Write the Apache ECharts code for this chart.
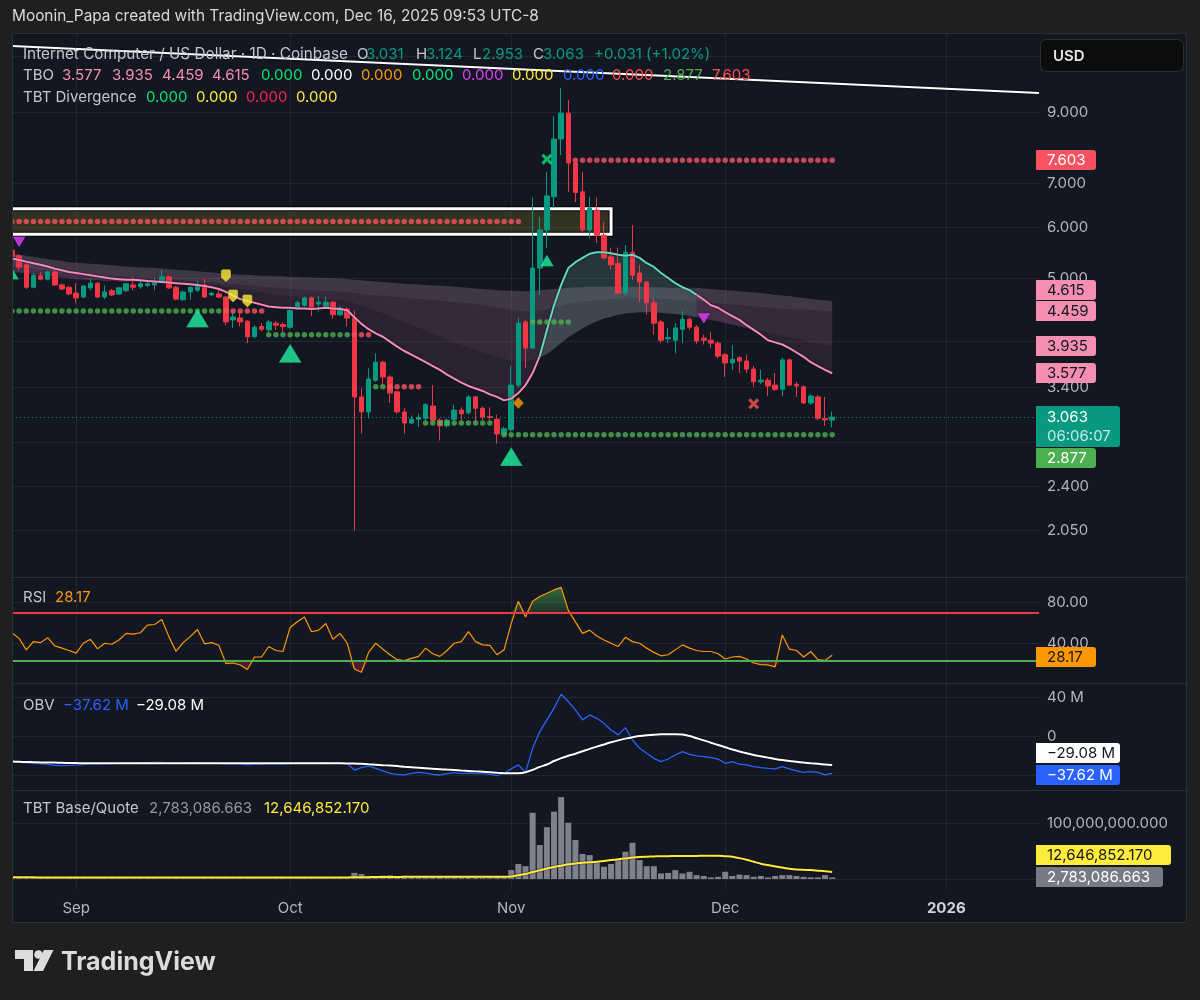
<!DOCTYPE html>
<html><head><meta charset="utf-8">
<script src="https://cdn.jsdelivr.net/npm/echarts@6/dist/echarts.min.js"></script>
<style>html,body{margin:0;padding:0;background:#1f1f1f;}#c{width:1200px;height:1000px;}</style>
</head><body><div id="c"></div>
<script>
// ---------------- DATA ----------------
const START_DATE = '2025-08-23';
const N_CATS = 145; // daily slots from START_DATE through mid-Jan 2026
const opens = [5.53,5.42,5.25,4.85,5.05,4.99,5.12,4.89,4.85,4.75,
 4.685,4.84,4.92,4.685,4.79,4.735,4.79,4.89,4.86,4.88,
 4.89,4.94,5.03,4.85,4.64,4.77,4.80,4.89,4.72,4.735,
 4.685,4.32,4.35,4.30,4.07,4.22,4.17,4.27,4.25,4.21,
 4.51,4.55,4.67,4.57,4.52,4.60,4.40,4.49,4.35,3.29,
 3.12,3.49,3.72,3.53,3.35,3.12,3.00,3.04,3.05,3.185,
 3.03,2.97,3.04,3.14,3.11,3.29,3.16,3.07,3.04,2.885,
 2.93,3.43,4.29,3.91,5.19,5.94,6.68,8.195,8.98,7.53,
 6.80,5.94,6.37,5.83,5.40,5.28,4.75,5.49,5.10,4.94,
 4.59,4.29,4.04,4.02,4.18,4.33,4.21,4.05,4.02,3.98,
 3.82,3.71,3.78,3.735,3.63,3.47,3.49,3.43,3.38,3.75,
 3.44,3.41,3.22,3.29,3.05,3.031];
const highs = [5.60,5.45,5.30,5.10,5.12,5.14,5.19,4.91,4.87,4.92,
 4.89,5.00,4.94,4.88,4.82,4.86,4.92,5.03,4.98,4.95,
 5.01,5.155,5.05,4.87,4.79,4.86,4.96,4.99,4.77,4.82,
 4.70,4.46,4.44,4.32,4.24,4.27,4.32,4.30,4.28,4.49,
 4.63,4.69,4.69,4.70,4.69,4.62,4.54,4.52,4.47,3.39,
 3.64,3.84,3.74,3.55,3.36,3.16,3.08,3.10,3.22,3.43,
 3.05,3.05,3.20,3.17,3.31,3.30,3.18,3.17,3.09,2.96,
 3.67,4.35,4.32,6.66,6.22,7.29,8.89,9.82,9.41,7.55,
 7.29,6.68,6.66,6.10,5.58,5.58,5.63,6.04,5.25,4.96,
 4.67,4.32,4.20,4.27,4.46,4.36,4.24,4.10,4.14,4.00,
 3.84,3.95,3.80,3.82,3.67,3.62,3.52,3.58,3.78,3.77,
 3.47,3.43,3.32,3.31,3.29,3.124];
const lows = [5.36,5.15,4.82,4.83,4.97,4.97,4.87,4.80,4.72,4.58,
 4.67,4.80,4.67,4.65,4.70,4.72,4.77,4.80,4.82,4.85,
 4.80,4.92,4.82,4.63,4.62,4.64,4.77,4.67,4.70,4.67,
 4.24,4.20,4.22,3.98,4.05,4.15,4.14,4.17,4.14,4.19,
 4.48,4.52,4.38,4.45,4.50,4.34,4.38,4.22,2.05,2.89,
 3.05,3.47,3.42,3.22,3.10,2.89,2.99,2.96,3.03,3.00,
 2.82,2.95,3.02,3.03,3.09,3.01,3.03,3.03,2.79,2.87,
 2.91,3.40,3.64,3.90,4.72,5.57,6.42,7.74,6.80,6.557,
 5.90,5.77,5.67,5.35,5.16,4.74,4.70,4.98,4.60,4.40,
 4.10,3.98,3.98,3.84,3.98,4.17,3.97,3.96,3.91,3.77,
 3.53,3.62,3.58,3.58,3.41,3.44,3.30,3.36,3.30,3.42,
 3.29,3.21,3.20,3.03,2.97,2.953];
const closes = [5.40,5.21,4.85,5.06,4.99,5.12,4.89,4.82,4.735,4.67,
 4.87,4.92,4.685,4.77,4.72,4.84,4.91,4.85,4.91,4.91,
 4.94,5.03,4.84,4.65,4.77,4.85,4.89,4.685,4.75,4.685,
 4.29,4.365,4.29,4.07,4.21,4.18,4.29,4.24,4.22,4.47,
 4.59,4.67,4.52,4.60,4.60,4.40,4.51,4.35,3.29,3.12,
 3.505,3.72,3.53,3.335,3.12,3.00,3.04,3.06,3.20,3.03,
 2.97,3.03,3.14,3.10,3.29,3.16,3.063,3.06,2.885,2.94,
 3.43,4.27,3.91,5.19,5.94,6.70,8.195,8.98,7.53,6.78,
 5.94,6.42,5.83,5.38,5.25,4.75,5.49,5.06,4.94,4.59,
 4.27,4.02,4.06,4.20,4.33,4.21,4.01,4.02,3.98,3.80,
 3.71,3.76,3.735,3.63,3.47,3.49,3.42,3.38,3.75,3.43,
 3.42,3.22,3.30,3.05,3.032,3.063];

// TBO lines: fast MA (drawn line) and three slower band lines
const tboFast = [5.37,5.34,5.31,5.28,5.25,5.22,5.18,5.15,5.12,5.10,
 5.08,5.06,5.04,5.02,5.00,4.99,4.98,4.98,4.97,4.96,
 4.95,4.94,4.93,4.92,4.91,4.90,4.89,4.87,4.85,4.82,
 4.77,4.71,4.65,4.62,4.59,4.56,4.53,4.52,4.51,4.51,
 4.50,4.50,4.49,4.50,4.51,4.50,4.49,4.47,4.36,4.26,
 4.18,4.12,4.07,4.00,3.93,3.87,3.82,3.77,3.72,3.67,
 3.62,3.56,3.51,3.46,3.42,3.39,3.36,3.32,3.29,3.25,
 3.27,3.335,3.43,3.58,3.80,4.17,4.55,4.89,5.19,5.30,
 5.38,5.46,5.49,5.49,5.47,5.44,5.42,5.44,5.38,5.28,
 5.21,5.10,5.01,4.92,4.85,4.80,4.72,4.64,4.55,4.51,
 4.44,4.38,4.32,4.24,4.17,4.10,4.02,3.99,3.96,3.91,
 3.85,3.79,3.72,3.67,3.62,3.577];
const tboBand1 = [5.12,5.11,5.10,5.08,5.06,5.05,5.03,5.02,5.00,4.99,
 4.98,4.97,4.97,4.96,4.96,4.95,4.95,4.95,4.94,4.94,
 4.94,4.93,4.93,4.92,4.92,4.91,4.91,4.90,4.89,4.88,
 4.86,4.84,4.82,4.80,4.78,4.76,4.74,4.72,4.71,4.70,
 4.69,4.68,4.67,4.66,4.65,4.64,4.63,4.62,4.58,4.54,
 4.50,4.46,4.42,4.38,4.33,4.29,4.24,4.20,4.16,4.11,
 4.07,4.03,3.99,3.95,3.92,3.88,3.85,3.82,3.79,3.76,
 3.74,3.73,3.73,3.75,3.78,3.83,3.90,3.98,4.06,4.13,
 4.19,4.25,4.30,4.34,4.37,4.40,4.42,4.43,4.44,4.44,
 4.44,4.43,4.42,4.41,4.40,4.38,4.36,4.34,4.32,4.30,
 4.27,4.25,4.22,4.20,4.17,4.15,4.12,4.10,4.08,4.06,
 4.04,4.02,3.99,3.97,3.95,3.935];
const tboBand2 = [5.22,5.21,5.20,5.18,5.16,5.14,5.12,5.10,5.09,5.08,
 5.07,5.06,5.05,5.04,5.03,5.03,5.02,5.02,5.01,5.01,
 5.00,5.00,4.99,4.98,4.97,4.96,4.95,4.94,4.93,4.92,
 4.91,4.90,4.89,4.88,4.87,4.86,4.85,4.84,4.83,4.82,
 4.81,4.80,4.79,4.79,4.78,4.78,4.77,4.76,4.75,4.73,
 4.72,4.71,4.70,4.69,4.68,4.67,4.66,4.65,4.64,4.63,
 4.62,4.61,4.60,4.59,4.58,4.57,4.55,4.53,4.51,4.49,
 4.47,4.46,4.45,4.45,4.46,4.48,4.51,4.54,4.57,4.59,
 4.61,4.62,4.63,4.64,4.65,4.65,4.66,4.66,4.66,4.66,
 4.66,4.65,4.65,4.64,4.63,4.62,4.61,4.60,4.59,4.58,
 4.57,4.56,4.55,4.54,4.53,4.52,4.51,4.50,4.49,4.49,
 4.48,4.48,4.47,4.47,4.46,4.459];
const tboBand3 = [5.46,5.44,5.42,5.40,5.38,5.36,5.34,5.32,5.30,5.29,
 5.28,5.27,5.26,5.25,5.24,5.23,5.22,5.21,5.20,5.20,
 5.19,5.18,5.17,5.16,5.15,5.14,5.13,5.12,5.11,5.10,
 5.09,5.08,5.07,5.07,5.06,5.05,5.05,5.04,5.04,5.03,
 5.03,5.02,5.02,5.01,5.01,5.00,5.00,4.99,4.98,4.97,
 4.96,4.95,4.94,4.93,4.92,4.91,4.90,4.90,4.89,4.88,
 4.88,4.87,4.86,4.85,4.84,4.83,4.82,4.81,4.80,4.79,
 4.79,4.78,4.78,4.79,4.80,4.81,4.82,4.83,4.84,4.85,
 4.85,4.86,4.86,4.86,4.86,4.86,4.86,4.86,4.86,4.85,
 4.85,4.85,4.84,4.84,4.84,4.84,4.84,4.83,4.82,4.81,
 4.80,4.79,4.78,4.77,4.76,4.75,4.74,4.72,4.71,4.70,
 4.68,4.67,4.65,4.64,4.63,4.615];
const tboBullRange = [74, 96]; // bars where the fast line is drawn teal

// TBO support / resistance dots: [fromBar, toBar, price]
const redLevelSegs = [[0,71,6.12],[79,115,7.603],[30,35,4.46],[48,50,4.10],[53,57,3.41]];
const greenLevelSegs = [[0,29,4.46],[36,47,4.10],[51,52,3.41],[58,67,3.00],[73,78,4.29],[69,115,2.877]];
const boxZone = [0, 84, 5.85, 6.40]; // fromBar, toBar, low, high
const trendLine = [[0, 11.39], [144, 9.64]]; // [bar, price]

// signal markers: [bar, price]
const sigUpBig = [[26,4.35],[39,3.84],[70,2.664]];
const sigUpSmall = [[0,5.09],[75,5.33]];
const sigDown = [[1,5.69],[97,4.34]];
const sigYellow = [[30,5.05],[31,4.70],[33,4.62]];
const sigDiamond = [[71,3.22]];
const sigXGreen = [[75,7.63]];
const sigXRed = [[104,3.21]];

const rsi = [50.3,44.8,33.5,41.6,40.6,45.5,37.4,35.2,32.9,30.3,
 40.0,43.9,34.5,40.0,39.0,43.2,49.7,49.0,50.3,57.7,
 58.4,63.2,46.5,32.0,40.6,46.5,53.5,39.4,40.6,38.0,
 20.0,20.6,18.7,14.2,26.5,26.5,36.8,32.9,31.9,55.5,
 61.0,65.8,51.3,52.9,59.4,43.9,49.7,40.0,14.8,11.6,
 31.0,40.0,34.2,28.7,23.9,22.9,25.2,27.1,35.2,29.7,
 27.1,32.9,40.0,41.6,51.3,41.6,38.4,38.0,28.7,33.5,
 59.4,81.3,65.8,81.3,85.8,89.0,92.3,94.8,72.3,61.0,
 49.7,52.9,47.1,43.2,40.0,36.8,45.8,41.6,40.0,35.2,
 31.0,27.7,28.7,33.5,38.4,35.2,32.9,31.9,31.9,29.7,
 24.5,26.5,27.1,24.5,20.6,19.0,18.7,16.8,48.1,34.2,
 32.9,26.5,31.9,23.9,23.2,28.17];
const RSI_UPPER = 70, RSI_LOWER = 23;

const obv = [-25.6,-25.9,-27.0,-27.5,-28.0,-28.5,-29.3,-29.7,-29.5,-29.0,
 -28.6,-28.0,-28.4,-28.0,-27.6,-27.4,-27.0,-27.2,-27.0,-26.8,
 -26.5,-26.3,-26.8,-27.6,-27.2,-26.9,-26.6,-27.2,-27.0,-27.3,
 -28.2,-27.9,-28.2,-28.8,-28.3,-28.4,-27.9,-28.2,-28.4,-27.6,
 -27.2,-26.8,-27.3,-27.0,-26.6,-27.2,-26.9,-27.4,-34.2,-31.8,
 -30.1,-32.5,-35.2,-37.6,-38.6,-39.3,-37.6,-36.6,-37.3,-38.6,
 -39.3,-37.9,-36.9,-37.9,-37.3,-37.9,-37.9,-38.6,-39.9,-37.5,
 -33.0,-29.0,-36.6,-12.0,5.2,17.2,29.2,43.5,36.0,27.5,
 17.2,22.3,18.8,13.7,6.9,1.8,9.3,-3.4,-11.9,-17.1,
 -22.2,-25.6,-22.9,-18.8,-15.4,-18.1,-19.8,-20.5,-21.5,-22.9,
 -27.3,-25.6,-28.3,-29.0,-30.7,-31.8,-32.5,-33.1,-30.7,-33.1,
 -35.2,-36.6,-35.9,-36.6,-39.3,-37.62];
const obvMa = [-25.6,-25.8,-26.0,-26.2,-26.4,-26.5,-26.6,-26.8,-27.0,-27.1,
 -27.2,-27.3,-27.3,-27.3,-27.3,-27.3,-27.3,-27.3,-27.3,-27.3,
 -27.3,-27.3,-27.3,-27.3,-27.3,-27.3,-27.3,-27.3,-27.3,-27.3,
 -27.3,-27.3,-27.3,-27.3,-27.3,-27.3,-27.3,-27.3,-27.3,-27.3,
 -27.3,-27.3,-27.3,-27.3,-27.3,-27.3,-27.3,-27.4,-27.6,-27.9,
 -28.3,-28.7,-29.2,-29.7,-30.2,-30.8,-31.3,-31.8,-32.3,-32.8,
 -33.3,-33.8,-34.2,-34.7,-35.1,-35.6,-36.0,-36.5,-37.0,-37.4,
 -37.6,-37.5,-36.5,-34.0,-31.0,-28.5,-25.0,-22.0,-19.5,-17.5,
 -15.0,-12.5,-10.2,-8.0,-5.8,-3.8,-2.0,-0.5,0.6,1.4,
 2.0,2.4,2.5,2.5,2.2,0.6,-1.6,-3.8,-6.2,-8.5,
 -10.8,-13.2,-15.2,-17.0,-18.8,-20.2,-21.5,-22.8,-24.0,-25.0,
 -25.8,-26.6,-27.3,-27.9,-28.5,-29.08];

// TBT Base/Quote volume (millions)
const vol = [3.2,3.0,3.5,2.8,2.5,2.6,3.0,2.7,3.1,2.9,
 2.6,2.4,3.0,2.5,2.3,2.6,2.8,2.5,2.4,2.7,
 3.4,3.1,2.8,3.3,2.7,2.5,2.6,2.9,2.4,2.8,
 4.0,3.2,3.0,3.6,2.8,2.6,2.9,2.7,2.5,3.5,
 3.0,2.8,2.9,2.6,2.7,3.1,2.6,3.0,11.0,9.0,
 5.5,4.5,6.5,7.0,4.5,6.0,5.0,3.5,4.0,4.5,
 4.0,3.0,3.5,3.2,4.0,3.4,3.0,2.8,4.2,3.0,
 16,27,23,119,61,93,121,147,101,70,
 45,43,31,22,27,34,49,65,34,23,
 23,10,11,16,10,13,7,5.5,3,4,
 13,5.5,8,7,4,5.5,3,5.5,7,7,
 5.5,4,3,3,7,2.783086663];
const volMa = [3.0,3.0,3.0,3.0,2.9,2.9,2.9,2.9,2.9,2.9,
 2.9,2.9,2.8,2.8,2.8,2.8,2.8,2.8,2.8,2.8,
 2.8,2.8,2.8,2.8,2.8,2.8,2.8,2.8,2.8,2.8,
 2.9,2.9,2.9,2.9,2.9,2.9,2.9,2.9,2.9,2.9,
 2.9,2.9,2.9,2.9,2.9,2.9,2.9,2.9,3.1,3.3,
 3.4,3.5,3.6,3.7,3.8,3.9,4.0,4.0,4.0,4.1,
 4.1,4.1,4.1,4.1,4.1,4.1,4.1,4.1,4.1,4.1,
 4.5,7.0,9.0,12.5,15.5,19.0,21.5,24.0,26.5,28.0,
 29.0,30.0,31.0,32.5,34.0,35.5,37.0,38.5,39.5,40.0,
 40.5,41.0,41.0,41.5,41.5,41.5,41.5,42.0,42.0,42.0,
 41.0,40.0,37.5,34.5,31.0,27.5,25.0,22.5,20.5,18.5,
 17.0,16.5,16.0,15.0,14.0,12.64685217];

// axis ticks
const priceGridTicks = [2.05, 2.4, 2.8, 3.4, 4, 5, 6, 7, 9, 11];
const priceLabelTicks = [2.05, 2.4, 3.4, 5, 6, 7, 9];
const PRICE_RANGE = [1.7395, 11.924];
const rsiTicks = [40, 80];
const obvTicks = [-40, 0, 40];
const volTicks = [0, 100];
const MONTHS = ['Jan','Feb','Mar','Apr','May','Jun','Jul','Aug','Sep','Oct','Nov','Dec'];

// ---------------- BUILD ----------------
const L = Math.log;
const FONT = 'Inter, "Noto Sans", sans-serif';
const GRID_LINE = '#22262f';
const AXIS_TXT = '#b2b5be';
const UP = '#089981', DOWN = '#f23645';
const PINK = '#f48fb1';
const last = a => a[a.length - 1];

const categories = [];
const d0 = Date.parse(START_DATE + 'T00:00:00Z');
for (let k = 0; k < N_CATS; k++) categories.push(new Date(d0 + k * 86400000).toISOString().slice(0, 10));
const isMonthStart = (idx, val) => String(val).slice(8) === '01';

const chart = echarts.init(document.getElementById('c'), null, {renderer: 'canvas', width: 1200, height: 1000});

const gridDefs = [
  {left: 12, top: 33, width: 1027, height: 544},
  {left: 12, top: 578, width: 1027, height: 105},
  {left: 12, top: 684, width: 1027, height: 106},
  {left: 12, top: 791, width: 1027, height: 99}
];
const xAxes = gridDefs.map((g, gi) => ({
  type: 'category', gridIndex: gi, data: categories, boundaryGap: false,
  axisLine: {show: false}, axisTick: {show: false},
  axisLabel: gi === 3 ? {
    show: true, interval: isMonthStart, color: AXIS_TXT, fontSize: 15, fontFamily: FONT, margin: 11,
    formatter: v => { const d = new Date(v + 'T00:00:00Z'); return d.getUTCMonth() === 0 ? '{y|' + d.getUTCFullYear() + '}' : MONTHS[d.getUTCMonth()]; },
    rich: {y: {color: '#d1d4dc', fontSize: 15, fontWeight: 'bold', fontFamily: FONT}}
  } : {show: false},
  splitLine: {show: true, interval: isMonthStart, lineStyle: {color: GRID_LINE}}
}));
const mkY = (gi, min, max, gridTicks, labelTicks, fmt) => ({
  type: 'value', gridIndex: gi, position: 'right', min, max,
  axisLine: {show: false},
  axisTick: {show: false, customValues: gridTicks},
  axisLabel: {color: AXIS_TXT, fontSize: 15, fontFamily: FONT, margin: 8, customValues: labelTicks, formatter: fmt},
  splitLine: {show: true, lineStyle: {color: GRID_LINE}}
});
const fmtM = v => (v < 0 ? '\u2212' : '') + Math.abs(v).toFixed(2) + ' M';
const fmtVol = v => (v * 1e6).toLocaleString('en-US', {minimumFractionDigits: 3, maximumFractionDigits: 3});
const yAxes = [
  mkY(0, L(PRICE_RANGE[0]), L(PRICE_RANGE[1]), priceGridTicks.map(L), priceLabelTicks.map(L), v => Math.exp(v).toFixed(3)),
  mkY(1, 1, 104, rsiTicks, rsiTicks, v => v.toFixed(2)),
  mkY(2, -54.7, 54, obvTicks, obvTicks, v => v === 0 ? '0' : (v < 0 ? '\u2212' : '') + Math.abs(v) + ' M'),
  mkY(3, -19.7, 158, volTicks, volTicks, v => fmtVol(v))
];

const ptsOf = arr => arr.map(p => [p[0], L(p[1])]);
const segPoints = segs => { const out = []; segs.forEach(s => { for (let k = s[0]; k <= s[1]; k++) out.push([k, L(s[2])]); }); return out; };
const n = closes.length;

function ribbonRender(params, api) {
  const poly = (up, lo, a, b, fill) => {
    const pts = [];
    for (let k = a; k <= b; k++) pts.push(api.coord([k, L(up[k])]));
    for (let k = b; k >= a; k--) pts.push(api.coord([k, L(lo[k])]));
    return {type: 'polygon', shape: {points: pts}, style: {fill: fill}, silent: true};
  };
  const e = n - 1, a = tboBullRange[0], b = tboBullRange[1];
  return {type: 'group', children: [
    poly(tboBand3, tboBand2, 0, e, 'rgba(190,145,182,0.26)'),
    poly(tboBand2, tboBand1, 0, e, 'rgba(155,95,140,0.25)'),
    poly(tboBand1, tboFast, 0, a, 'rgba(135,75,120,0.20)'),
    poly(tboFast, tboBand1, a, b, 'rgba(110,185,170,0.20)'),
    poly(tboBand1, tboFast, b, e, 'rgba(135,75,120,0.20)')
  ]};
}
function boxRender(params, api) {
  const tl = api.coord([boxZone[0], L(boxZone[3])]);
  const br = api.coord([boxZone[1], L(boxZone[2])]);
  const outline = [[tl[0] - 3, tl[1]], [br[0], tl[1]], [br[0], br[1]], [tl[0] - 3, br[1]]];
  return {type: 'group', children: [
    {type: 'rect', shape: {x: tl[0], y: tl[1], width: br[0] - tl[0], height: br[1] - tl[1]}, style: {fill: 'rgba(95,90,40,0.42)'}},
    {type: 'polyline', shape: {points: outline}, style: {stroke: '#000', lineWidth: 5, fill: null}},
    {type: 'polyline', shape: {points: outline}, style: {stroke: '#ffffff', lineWidth: 3, fill: null}}
  ]};
}

const scatter = (data, symbol, size, color, z, extra) => Object.assign({
  type: 'scatter', xAxisIndex: 0, yAxisIndex: 0, data: ptsOf(data), symbol, symbolSize: size,
  itemStyle: {color, borderColor: 'rgba(0,0,0,0.35)', borderWidth: 0.8}, z, silent: true
}, extra || {});

const XPATH = 'path://M0,2 L2,0 L5,3 L8,0 L10,2 L7,5 L10,8 L8,10 L5,7 L2,10 L0,8 L3,5 Z';
const SHIELD = 'path://M2,0 H8 Q10,0 10,2 V8 L5,13 L0,8 V2 Q0,0 2,0 Z';
const TRI_GREEN = '#22f0a0';

const series = [
  {type: 'custom', xAxisIndex: 0, yAxisIndex: 0, z: 1, silent: true, data: [[0, L(5)]], renderItem: ribbonRender},
  {type: 'custom', xAxisIndex: 0, yAxisIndex: 0, z: 2, silent: true, data: [[0, L(6)]], renderItem: boxRender},
  {type: 'candlestick', xAxisIndex: 0, yAxisIndex: 0, z: 3, barWidth: 5,
    data: opens.map((o, k) => [L(o), L(closes[k]), L(lows[k]), L(highs[k])]),
    itemStyle: {color: UP, color0: DOWN, borderColor: UP, borderColor0: DOWN, borderWidth: 1},
    markLine: {silent: true, symbol: ['none', 'none'], label: {show: false}, animation: false,
      lineStyle: {color: UP, type: [1, 3], width: 1}, data: [{yAxis: L(last(closes))}]}},
  {type: 'line', xAxisIndex: 0, yAxisIndex: 0, z: 4, showSymbol: false, silent: true,
    data: tboFast.map((v, k) => (k <= tboBullRange[0] || k >= tboBullRange[1]) ? L(v) : null),
    lineStyle: {color: '#f38bbd', width: 2, shadowColor: 'rgba(0,0,0,0.7)', shadowBlur: 2}},
  {type: 'line', xAxisIndex: 0, yAxisIndex: 0, z: 4, showSymbol: false, silent: true,
    data: tboFast.map((v, k) => (k >= tboBullRange[0] && k <= tboBullRange[1]) ? L(v) : null),
    lineStyle: {color: '#62d9bd', width: 2, shadowColor: 'rgba(0,0,0,0.7)', shadowBlur: 2}},
  {type: 'scatter', xAxisIndex: 0, yAxisIndex: 0, z: 5, silent: true, symbolSize: 5.5, data: segPoints(redLevelSegs), itemStyle: {color: '#f7525f'}},
  {type: 'scatter', xAxisIndex: 0, yAxisIndex: 0, z: 5, silent: true, symbolSize: 5.5, data: segPoints(greenLevelSegs), itemStyle: {color: '#4caf50'}},
  scatter(sigUpBig, 'triangle', [23, 19], TRI_GREEN, 6),
  scatter(sigUpSmall, 'triangle', [14, 12], TRI_GREEN, 6),
  scatter(sigDown, 'triangle', [13, 11], '#e040fb', 6, {symbolRotate: 180}),
  scatter(sigYellow, SHIELD, [10, 13], '#ffeb3b', 6),
  scatter(sigDiamond, 'diamond', [11, 12], '#ff9800', 6),
  scatter(sigXGreen, XPATH, 11, '#00e676', 6, {itemStyle: {color: '#00e676'}}),
  scatter(sigXRed, XPATH, 11, '#ff5252', 6, {itemStyle: {color: '#ff5252'}}),
  {type: 'line', xAxisIndex: 0, yAxisIndex: 0, z: 7, showSymbol: false, silent: true, data: ptsOf(trendLine),
    lineStyle: {color: '#ffffff', width: 2, shadowColor: 'rgba(0,0,0,0.9)', shadowBlur: 2}},

  // RSI pane
  {type: 'line', xAxisIndex: 1, yAxisIndex: 1, stack: 'ob', showSymbol: false, silent: true, data: rsi.map(() => RSI_UPPER), lineStyle: {opacity: 0}},
  {type: 'line', xAxisIndex: 1, yAxisIndex: 1, stack: 'ob', showSymbol: false, silent: true, data: rsi.map(v => Math.max(v - RSI_UPPER, 0)), lineStyle: {opacity: 0},
    areaStyle: {color: new echarts.graphic.LinearGradient(0, 0, 0, 1, [{offset: 0, color: 'rgba(76,175,80,0.8)'}, {offset: 1, color: 'rgba(76,175,80,0.25)'}])}},
  {type: 'line', xAxisIndex: 1, yAxisIndex: 1, stack: 'os', showSymbol: false, silent: true, data: rsi.map(v => Math.min(v, RSI_LOWER)), lineStyle: {opacity: 0}},
  {type: 'line', xAxisIndex: 1, yAxisIndex: 1, stack: 'os', showSymbol: false, silent: true, data: rsi.map(v => RSI_LOWER - Math.min(v, RSI_LOWER)), lineStyle: {opacity: 0},
    areaStyle: {color: 'rgba(242,54,69,0.35)'}},
  {type: 'line', xAxisIndex: 1, yAxisIndex: 1, z: 4, showSymbol: false, silent: true, data: rsi,
    lineStyle: {color: '#ff9800', width: 1.2},
    markLine: {silent: true, symbol: ['none', 'none'], label: {show: false}, animation: false,
      data: [{yAxis: RSI_UPPER, lineStyle: {color: '#f23645', width: 2, type: 'solid'}}, {yAxis: RSI_LOWER, lineStyle: {color: '#4caf50', width: 2, type: 'solid'}}]}},

  // OBV pane
  {type: 'line', xAxisIndex: 2, yAxisIndex: 2, showSymbol: false, silent: true, data: obv, lineStyle: {color: '#2962ff', width: 1.3}},
  {type: 'line', xAxisIndex: 2, yAxisIndex: 2, showSymbol: false, silent: true, data: obvMa, smooth: 0.3,
    lineStyle: {color: '#ffffff', width: 2, shadowColor: 'rgba(0,0,0,0.9)', shadowBlur: 2}},

  // Volume pane
  {type: 'bar', xAxisIndex: 3, yAxisIndex: 3, silent: true, data: vol, barWidth: 6, itemStyle: {color: '#7f828d'}},
  {type: 'line', xAxisIndex: 3, yAxisIndex: 3, showSymbol: false, silent: true, data: volMa, smooth: 0.3,
    lineStyle: {color: '#ffeb3b', width: 2, shadowColor: 'rgba(0,0,0,0.8)', shadowBlur: 2}}
];

chart.setOption({
  animation: false,
  backgroundColor: '#1f1f1f',
  grid: gridDefs,
  xAxis: xAxes,
  yAxis: yAxes,
  series
});

// ---------------- OVERLAYS ----------------
const txt = (x, y, text, fill, size, weight, z) => ({type: 'text', x, y, z: z || 100, silent: true,
  style: {text, fill, fontSize: size || 15, fontWeight: weight || 'normal', fontFamily: FONT, verticalAlign: 'middle', align: 'left'}});
const G = [];
G.push({type: 'rect', z: -10, silent: true, shape: {x: 12, y: 33, width: 1175, height: 890}, style: {fill: '#131722'}});
G.push({type: 'rect', z: 90, silent: true, shape: {x: 0, y: 33, width: 12, height: 890}, style: {fill: '#1f1f1f'}});
G.push({type: 'rect', z: 91, silent: true, shape: {x: 12.5, y: 33.5, width: 1174, height: 889}, style: {fill: null, stroke: '#2a2e39', lineWidth: 1}});
[577.5, 683.5, 790.5].forEach(y => G.push({type: 'line', z: 91, silent: true, shape: {x1: 12, y1: y, x2: 1187, y2: y}, style: {stroke: '#2a2e39', lineWidth: 1}}));

G.push(txt(12, 16, 'Moonin_Papa created with TradingView.com, Dec 16, 2025 09:53 UTC-8', '#d9d9d9', 15.4));

// legends
const LBL = '#c3c6ce';
const prevClose = closes[closes.length - 2];
const chg = last(closes) - prevClose;
[[23, 'Internet Computer / US Dollar \u00b7 1D \u00b7 Coinbase', LBL], [357, 'O', LBL], [366, last(opens).toFixed(3), UP],
 [416, 'H', LBL], [426, last(highs).toFixed(3), UP], [473, 'L', LBL], [482, last(lows).toFixed(3), UP],
 [533, 'C', LBL], [543, last(closes).toFixed(3), UP],
 [594, '+' + chg.toFixed(3) + ' (+' + (chg / prevClose * 100).toFixed(2) + '%)', UP]
].forEach(e => G.push(txt(e[0], 54, e[1], e[2], e[0] === 23 ? 15.3 : 15)));
const tboVals = [last(tboFast), last(tboBand1), last(tboBand2), last(tboBand3), 0, 0, 0, 0, 0, 0, 0, 0, 2.877, 7.603];
const tboCols = [PINK, PINK, PINK, PINK, '#00e676', '#ffffff', '#ff9800', '#00e676', '#e040fb', '#ffeb3b', '#2962ff', '#ff5252', '#4caf50', '#ff5252'];
const tboX = [62, 112, 162, 212, 261, 311, 361, 412, 462, 512, 563, 612, 663, 712];
G.push(txt(23, 75, 'TBO', LBL));
tboVals.forEach((v, k) => G.push(txt(tboX[k], 75, v.toFixed(3), tboCols[k])));
G.push(txt(23, 97, 'TBT Divergence', LBL));
[['#00e676', 146], ['#ffeb3b', 196], ['#f7254d', 246], ['#ffeb3b', 296]].forEach(e => G.push(txt(e[1], 97, (0).toFixed(3), e[0])));
G.push(txt(23, 597, 'RSI', LBL));
G.push(txt(55, 597, last(rsi).toFixed(2), '#ff9800'));
G.push(txt(23, 705, 'OBV', LBL));
G.push(txt(63, 705, fmtM(last(obv)), '#2962ff'));
G.push(txt(136, 705, fmtM(last(obvMa)), '#ffffff'));
G.push(txt(23, 808, 'TBT Base/Quote', LBL));
G.push(txt(149, 808, fmtVol(last(vol)), '#9598a1'));
G.push(txt(264, 808, fmtVol(last(volMa)), '#ffeb3b'));

// right-axis value tags
const py = (yi, v) => chart.convertToPixel({yAxisIndex: yi}, v);
function tag(yc, text, bg, fg, w) {
  const y = Math.round(yc);
  G.push({type: 'rect', z: 101, silent: true, shape: {x: 1036, y: y - 10, width: w || 60, height: 20, r: [0, 3, 3, 0]}, style: {fill: bg}});
  G.push(txt(1047, y, text, fg, 15, 'normal', 102));
}
tag(py(0, L(7.603)), '7.603', '#f7525f', '#ffffff');
tag(py(0, L(last(tboBand3))) - 11, last(tboBand3).toFixed(3), PINK, '#131722');
tag(py(0, L(last(tboBand2))), last(tboBand2).toFixed(3), PINK, '#131722');
tag(py(0, L(last(tboBand1))), last(tboBand1).toFixed(3), PINK, '#131722');
tag(py(0, L(last(tboFast))), last(tboFast).toFixed(3), PINK, '#131722');
{
  const y = Math.round(py(0, L(last(closes))));
  G.push({type: 'rect', z: 101, silent: true, shape: {x: 1036, y: y - 11, width: 84, height: 41, r: [0, 3, 3, 0]}, style: {fill: UP}});
  G.push(txt(1047, y, last(closes).toFixed(3), '#ffffff', 15, 'normal', 102));
  G.push(txt(1047, y + 19, '06:06:07', 'rgba(255,255,255,0.78)', 15, 'normal', 102));
}
tag(py(0, L(2.877)) + 23, '2.877', '#4caf50', '#ffffff');
tag(py(1, last(rsi)) + 2, last(rsi).toFixed(2), '#ff9800', '#131722');
tag(py(2, last(obvMa)) - 12, fmtM(last(obvMa)), '#ffffff', '#131722', 84);
tag(py(2, last(obv)) + 1.5, fmtM(last(obv)), '#2962ff', '#ffffff', 84);
tag(py(3, last(volMa)) - 16.5, fmtVol(last(volMa)), '#ffeb3b', '#131722', 135);
tag(py(3, last(vol)), fmtVol(last(vol)), '#787b86', '#ffffff', 127);

// USD button
G.push({type: 'rect', z: 101, silent: true, shape: {x: 1040.5, y: 39.5, width: 143, height: 32, r: 6}, style: {fill: '#0c0c0c', stroke: '#2e2e2e', lineWidth: 1}});
G.push(txt(1053, 56, 'USD', '#e6e6e6', 15, 600, 102));

// TradingView logo
G.push({type: 'polygon', z: 100, silent: true, shape: {points: [[15, 950], [33, 950], [33, 971], [24, 971], [24, 959], [15, 959]]}, style: {fill: '#dcdcdc'}});
G.push({type: 'circle', z: 100, silent: true, shape: {cx: 38.5, cy: 954.5, r: 4.3}, style: {fill: '#dcdcdc'}});
G.push({type: 'polygon', z: 100, silent: true, shape: {points: [[44, 950], [53.5, 950], [43, 971], [33.5, 971]]}, style: {fill: '#dcdcdc'}});
G.push(txt(61, 962, 'TradingView', '#dcdcdc', 25, 'bold'));

chart.setOption({graphic: {elements: G}});
</script>
</body></html>
